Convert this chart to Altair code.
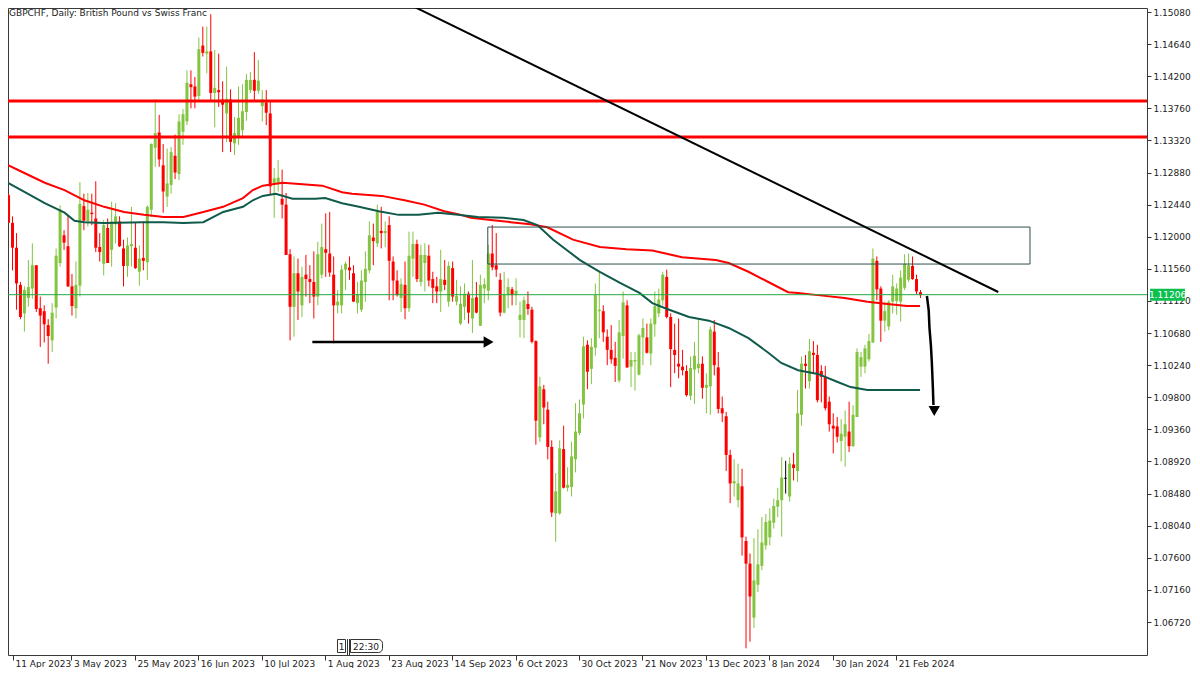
import altair as alt
import pandas as pd

# ---------------- data ----------------
opens = [1.1257,1.1219,1.1185,1.1134,1.1095,1.1116,1.1129,1.1161,1.1102,1.1098,
         1.1079,1.1058,1.1103,1.1164,1.1202,1.1187,1.1132,1.1102,1.1133,1.1242,
         1.1221,1.1233,1.1225,1.1186,1.1163,1.1212,1.1182,1.1217,1.1221,1.1184,
         1.1160,1.1187,1.1185,1.1152,1.1171,1.1165,1.1237,1.1322,1.1343,1.1298,
         1.1255,1.1271,1.1311,1.1286,1.1344,1.1358,1.1409,1.1406,1.1393,1.1462,
         1.1451,1.1454,1.1397,1.1401,1.1388,1.1369,1.1388,1.1328,1.1338,1.1346,
         1.1371,1.1401,1.1415,1.1400,1.1379,1.1384,1.1369,1.1273,1.1274,1.1252,
         1.1244,1.1176,1.1104,1.1150,1.1106,1.1148,1.1142,1.1138,1.1118,1.1148,
         1.1183,1.1177,1.1148,1.1106,1.1106,1.1155,1.1158,1.1150,1.1109,1.1100,
         1.1138,1.1154,1.1199,1.1191,1.1208,1.1205,1.1216,1.1166,1.1140,1.1116,
         1.1134,1.1102,1.1170,1.1190,1.1138,1.1164,1.1174,1.1142,1.1132,1.1125,
         1.1141,1.1111,1.1157,1.1111,1.1081,1.1104,1.1122,1.1088,1.1117,1.1078,
         1.1129,1.1126,1.1177,1.1161,1.1141,1.1096,1.1120,1.1128,1.1120,1.1086,
         1.1086,1.1108,1.1100,1.1057,1.0925,1.0991,1.0963,1.0912,1.0821,1.0821,
         1.0909,1.0856,1.0857,1.0895,1.0931,1.0970,1.1052,1.1019,1.1048,1.1098,
         1.1098,1.1063,1.1045,1.1034,1.1003,1.1064,1.1106,1.1022,1.1029,1.1011,
         1.1062,1.1062,1.1040,1.1080,1.1095,1.1113,1.1145,1.1090,1.1045,1.1026,
         1.1022,1.1016,1.0982,1.1018,1.1020,1.1026,1.0993,1.0995,1.1070,1.1021,
         1.0965,1.0954,1.0901,1.0862,1.0839,1.0858,1.0783,1.0752,1.0678,1.0723,
         1.0749,1.0777,1.0788,1.0808,1.0830,1.0839,1.0869,1.0844,1.0888,1.0879,
         1.0956,1.1026,1.1002,1.1041,1.1038,1.1016,1.1008,1.0974,1.0941,1.0940,
         1.0920,1.0926,1.0933,1.0913,1.0953,1.1022,1.1022,1.1032,1.1055,1.1167,
         1.1129,1.1085,1.1077,1.1111,1.1112,1.1111,1.1130,1.1141,1.1160,1.1142,
         1.1124]
highs = [1.1259,1.1228,1.1205,1.1138,1.1132,1.1168,1.1191,1.1161,1.1118,1.1106,
         1.1087,1.1109,1.1184,1.1243,1.1209,1.1230,1.1149,1.1166,1.1275,1.1259,
         1.1260,1.1259,1.1276,1.1205,1.1223,1.1225,1.1248,1.1246,1.1228,1.1196,
         1.1199,1.1241,1.1219,1.1188,1.1221,1.1243,1.1328,1.1388,1.1367,1.1327,
         1.1321,1.1323,1.1340,1.1368,1.1375,1.1428,1.1428,1.1419,1.1473,1.1488,
         1.1488,1.1505,1.1456,1.1451,1.1413,1.1433,1.1402,1.1364,1.1406,1.1409,
         1.1423,1.1426,1.1453,1.1442,1.1401,1.1401,1.1387,1.1294,1.1305,1.1292,
         1.1260,1.1183,1.1173,1.1170,1.1159,1.1175,1.1161,1.1180,1.1193,1.1218,
         1.1232,1.1234,1.1173,1.1127,1.1161,1.1166,1.1173,1.1161,1.1138,1.1154,
         1.1180,1.1221,1.1218,1.1244,1.1241,1.1221,1.1228,1.1173,1.1154,1.1143,
         1.1166,1.1207,1.1207,1.1196,1.1189,1.1191,1.1189,1.1152,1.1145,1.1182,
         1.1168,1.1166,1.1166,1.1141,1.1132,1.1136,1.1125,1.1168,1.1138,1.1148,
         1.1143,1.1189,1.1216,1.1205,1.1150,1.1152,1.1143,1.1131,1.1143,1.1111,
         1.1118,1.1125,1.1104,1.1058,1.1008,1.0997,1.0974,1.0921,1.0876,1.0921,
         1.0941,1.0884,1.0919,1.0972,1.0977,1.1063,1.1058,1.1061,1.1136,1.1152,
         1.1106,1.1073,1.1079,1.1056,1.1086,1.1125,1.1113,1.1042,1.1042,1.1067,
         1.1088,1.1081,1.1088,1.1125,1.1129,1.1152,1.1155,1.1095,1.1081,1.1088,
         1.1045,1.1024,1.1036,1.1056,1.1088,1.1036,1.1013,1.1077,1.1086,1.1042,
         1.0981,1.0960,1.0908,1.0895,1.0889,1.0882,1.0789,1.0766,1.0787,1.0799,
         1.0816,1.0820,1.0828,1.0841,1.0856,1.0898,1.0893,1.0898,1.0904,1.0990,
         1.1036,1.1038,1.1060,1.1057,1.1052,1.1024,1.1023,1.0981,1.0958,1.0953,
         1.0950,1.0962,1.0974,1.0969,1.1047,1.1042,1.1052,1.1067,1.1184,1.1173,
         1.1132,1.1111,1.1113,1.1148,1.1136,1.1154,1.1176,1.1177,1.1173,1.1148,
         1.1127]
lows = [1.1219,1.1154,1.1100,1.1087,1.1070,1.1104,1.1115,1.1097,1.1049,1.1055,
        1.1026,1.1042,1.1088,1.1159,1.1182,1.1131,1.1092,1.1088,1.1118,1.1209,
        1.1214,1.1216,1.1179,1.1166,1.1147,1.1164,1.1159,1.1191,1.1186,1.1132,
        1.1145,1.1159,1.1156,1.1133,1.1154,1.1141,1.1227,1.1296,1.1296,1.1233,
        1.1241,1.1259,1.1279,1.1278,1.1326,1.1353,1.1376,1.1376,1.1387,1.1447,
        1.1424,1.1387,1.1350,1.1378,1.1316,1.1330,1.1316,1.1312,1.1326,1.1337,
        1.1359,1.1397,1.1387,1.1396,1.1358,1.1353,1.1257,1.1226,1.1262,1.1225,
        1.1175,1.1058,1.1063,1.1086,1.1090,1.1118,1.1109,1.1088,1.1106,1.1143,
        1.1145,1.1145,1.1054,1.1095,1.1095,1.1127,1.1141,1.1111,1.1095,1.1097,
        1.1111,1.1150,1.1161,1.1186,1.1184,1.1186,1.1113,1.1113,1.1118,1.1097,
        1.1087,1.1097,1.1145,1.1138,1.1132,1.1125,1.1132,1.1109,1.1109,1.1097,
        1.1127,1.1104,1.1111,1.1106,1.1079,1.1086,1.1081,1.1068,1.1095,1.1078,
        1.1109,1.1113,1.1154,1.1145,1.1091,1.1095,1.1102,1.1106,1.1106,1.1062,
        1.1061,1.1093,1.1054,1.0915,1.0919,1.0943,1.0895,1.0816,1.0782,1.0819,
        1.0855,1.0851,1.0844,1.0877,1.0928,1.0951,1.0991,1.0998,1.1037,1.1061,
        1.1056,1.1024,1.1026,1.1001,1.1000,1.1033,1.1020,1.0994,1.0989,1.1010,
        1.1024,1.1040,1.1024,1.1063,1.1090,1.1106,1.1088,1.0994,1.1013,1.1006,
        1.1010,1.0981,1.0976,1.0971,1.1013,1.0978,1.0958,1.0956,1.1010,1.0958,
        1.0946,1.0879,1.0835,1.0844,1.0829,1.0763,1.0636,1.0645,1.0664,1.0713,
        1.0743,1.0771,1.0777,1.0800,1.0816,1.0789,1.0848,1.0837,1.0866,1.0864,
        1.0941,1.0992,1.0992,1.1012,1.0973,1.0973,1.0962,1.0933,1.0903,1.0918,
        1.0892,1.0885,1.0905,1.0912,1.0953,1.1008,1.1013,1.1029,1.1055,1.1113,
        1.1056,1.1070,1.1072,1.1095,1.1093,1.1084,1.1127,1.1138,1.1141,1.1121,
        1.1116]
closes = [1.1219,1.1185,1.1136,1.1090,1.1127,1.1131,1.1161,1.1101,1.1092,1.1080,
          1.1064,1.1096,1.1174,1.1237,1.1192,1.1132,1.1105,1.1134,1.1245,1.1222,
          1.1237,1.1231,1.1185,1.1179,1.1216,1.1164,1.1221,1.1228,1.1187,1.1160,
          1.1188,1.1190,1.1157,1.1170,1.1167,1.1241,1.1327,1.1342,1.1306,1.1262,
          1.1273,1.1316,1.1288,1.1358,1.1368,1.1411,1.1405,1.1392,1.1457,1.1452,
          1.1454,1.1397,1.1404,1.1398,1.1381,1.1389,1.1330,1.1342,1.1363,1.1372,
          1.1415,1.1415,1.1400,1.1414,1.1388,1.1370,1.1269,1.1280,1.1281,1.1244,
          1.1175,1.1104,1.1150,1.1125,1.1145,1.1142,1.1138,1.1118,1.1176,1.1186,
          1.1178,1.1151,1.1106,1.1111,1.1155,1.1163,1.1154,1.1111,1.1121,1.1140,
          1.1156,1.1202,1.1194,1.1234,1.1205,1.1208,1.1167,1.1140,1.1120,1.1135,
          1.1102,1.1174,1.1190,1.1142,1.1175,1.1175,1.1140,1.1130,1.1125,1.1142,
          1.1134,1.1160,1.1118,1.1119,1.1108,1.1122,1.1096,1.1116,1.1096,1.1134,
          1.1135,1.1177,1.1158,1.1155,1.1096,1.1121,1.1131,1.1120,1.1126,1.1093,
          1.1113,1.1101,1.1056,1.0948,1.0995,1.0966,1.0912,1.0822,1.0851,1.0910,
          1.0856,1.0860,1.0899,1.0933,1.0958,1.1050,1.1015,1.1049,1.1120,1.1100,
          1.1069,1.1045,1.1032,1.1023,1.1069,1.1110,1.1021,1.1031,1.1031,1.1065,
          1.1075,1.1041,1.1081,1.1105,1.1114,1.1148,1.1090,1.1046,1.1038,1.1022,
          1.1017,1.0983,1.1020,1.1037,1.1026,1.0993,1.0997,1.1073,1.1024,1.0964,
          1.0958,1.0901,1.0862,1.0865,1.0862,1.0788,1.0752,1.0707,1.0729,1.0751,
          1.0781,1.0809,1.0811,1.0831,1.0839,1.0870,1.0869,1.0889,1.0883,1.0958,
          1.1026,1.1023,1.1043,1.1038,1.0976,1.1008,1.0965,1.0943,1.0937,1.0926,
          1.0930,1.0943,1.0913,1.0956,1.1042,1.1035,1.1047,1.1057,1.1170,1.1128,
          1.1085,1.1098,1.1111,1.1132,1.1129,1.1144,1.1163,1.1161,1.1142,1.1125,
          1.1120]

# moving averages (bar index, price)
ma_red_i = [0,4.25,9.25,14.25,19.25,24.25,29.25,34.25,39.25,44.25,49.25,54.25,59.25,61.75,
            64.25,69.25,74.25,79.25,84.25,86.75,94.25,100,105,110,113.5,116.75,121.75,126.75,
            131.75,136,142.5,149.25,156,162.5,170,178.5,181.75,186.75,191.75,196.75,199.25,
            204.25,211,216.75,221.75,226.75,230]
ma_red_p = [1.1298,1.1287,1.1274,1.1264,1.1250,1.1241,1.1234,1.1230,1.1227,1.1227,1.1234,1.1241,
            1.1253,1.1264,1.1270,1.1274,1.1272,1.1270,1.1261,1.1259,1.1256,1.1250,1.1244,1.1235,
            1.1231,1.1226,1.1223,1.1220,1.1217,1.1213,1.1196,1.1186,1.1183,1.1181,1.1172,1.1168,
            1.1164,1.1152,1.1138,1.1124,1.1123,1.1120,1.1116,1.1111,1.1108,1.1105,1.1105]
ma_teal_i = [0,4.25,9.25,14.25,16.75,19.25,24.25,34.25,39.25,44.25,49.25,54.25,59.25,61.75,
             64.25,67.5,71.75,77.5,80,84.25,88.5,93.5,98.5,103.5,108.5,113.5,118.5,125,130,
             133.5,137.5,144.25,149.25,154.25,159.25,162.5,166.75,171.75,176.75,181.75,186.75,
             191.75,195,199.25,204.25,209.25,212.5,216.75,230]
ma_teal_p = [1.1274,1.1261,1.1246,1.1233,1.1222,1.1220,1.1219,1.1220,1.1220,1.1219,1.1220,1.1234,
             1.1241,1.1250,1.1256,1.1259,1.1252,1.1252,1.1253,1.1246,1.1241,1.1235,1.1230,1.1230,
             1.1233,1.1230,1.1227,1.1226,1.1223,1.1216,1.1196,1.1168,1.1152,1.1137,1.1123,1.1109,
             1.1100,1.1090,1.1085,1.1075,1.1061,1.1041,1.1027,1.1017,1.1012,1.1001,1.0994,1.0990,
             1.0990]

# drawn objects
resistance_levels = [1.13860, 1.13367]
trend_i = [100.5, 249.75]
trend_p = [1.15203, 1.11243]
zone_i = [121, 257.75]
zone_p = [1.12133, 1.11626]
last_price = 1.11206
arrow_h_i = [76.75, 120.5]
arrow_h_p = [1.10557, 1.10557]
arrow_head_h = (121.2, 1.10557)
arrow_v_i = [231.75, 232.2, 232.4, 232.75, 233.0, 233.25, 233.4]
arrow_v_p = [1.11188, 1.10996, 1.10749, 1.10516, 1.10270, 1.09941, 1.09694]
arrow_head_v = (233.6, 1.09612)

x_tick_idx = [1.25, 16, 32, 48, 64, 80, 96, 112, 128, 144, 160, 176, 192, 208, 224]
x_tick_labels = ["11 Apr 2023", "3 May 2023", "25 May 2023", "16 Jun 2023", "10 Jul 2023",
                 "1 Aug 2023", "23 Aug 2023", "14 Sep 2023", "6 Oct 2023", "30 Oct 2023",
                 "21 Nov 2023", "13 Dec 2023", "8 Jan 2024", "30 Jan 2024", "21 Feb 2024"]
y_ticks = [1.0672, 1.0716, 1.0760, 1.0804, 1.0848, 1.0892, 1.0936, 1.0980, 1.1024, 1.1068,
           1.1112, 1.1156, 1.1200, 1.1244, 1.1288, 1.1332, 1.1376, 1.1420, 1.1464, 1.1508]
title_text = "GBPCHF, Daily:  British Pound vs Swiss Franc"

# ---------------- styling ----------------
GREEN = "#83C441"
RED = "#FF0000"
TEAL = "#0F5A4B"
FONT = "DejaVu Sans"
W, H = 1139, 647
xs = alt.Scale(domain=[1.25, 286], nice=False, zero=False)
ys = alt.Scale(domain=[1.06268, 1.15135], nice=False, zero=False)

dirs = ["doji" if o == c else ("up" if c > o else "down") for o, c in zip(opens, closes)]
df = pd.DataFrame({"i": list(range(len(opens))), "o": opens, "h": highs, "l": lows,
                   "c": closes, "dir": dirs})
color = alt.Color("dir:N", scale=alt.Scale(domain=["up", "down", "doji"],
                                           range=[GREEN, RED, "#000000"]), legend=None)

label_expr = "[" + ",".join("'%s'" % s for s in x_tick_labels) + "][round(datum.value/16)]"
x_axis = alt.Axis(values=x_tick_idx, labelExpr=label_expr, tickSize=5, labelAlign="left",
                  labelBaseline="top", labelPadding=-1, labelOffset=2, labelFont=FONT,
                  labelFontSize=9, labelColor="#222", tickColor="#333", domain=False,
                  grid=False, title=None, labelOverlap=False, labelFlush=False)
y_axis = alt.Axis(values=y_ticks, format=".5f", orient="right", tickSize=4, labelPadding=2,
                  labelFont=FONT, labelFontSize=9, labelColor="#222", tickColor="#333",
                  domain=False, grid=False, title=None, labelOverlap=False, labelFlush=False,
                  labelBound=False)


def X(field):
    return alt.X(field, scale=xs, axis=x_axis)


def Y(field):
    return alt.Y(field, scale=ys, axis=y_axis)


base = alt.Chart(df)
wicks = base.mark_rule(strokeWidth=1, clip=True, xOffset=0.5).encode(
    x=X("i:Q"), y=Y("l:Q"), y2="h:Q", color=color)
bodies = base.transform_filter("datum.dir != 'doji'").mark_bar(size=3, clip=True, xOffset=0.5).encode(
    x=X("i:Q"), y=Y("o:Q"), y2="c:Q", color=color)
doji = base.transform_filter("datum.dir == 'doji'").transform_calculate(
    xa="datum.i - 0.375", xb="datum.i + 0.375").mark_rule(strokeWidth=1, clip=True, xOffset=0.5).encode(
    x=X("xa:Q"), x2="xb:Q", y=Y("o:Q"), color=alt.value("#000000"))

ma_red = alt.Chart(pd.DataFrame({"i": ma_red_i, "p": ma_red_p})).mark_line(
    color=RED, strokeWidth=2, clip=True).encode(x=X("i:Q"), y=Y("p:Q"))
ma_teal = alt.Chart(pd.DataFrame({"i": ma_teal_i, "p": ma_teal_p})).mark_line(
    color=TEAL, strokeWidth=2, clip=True).encode(x=X("i:Q"), y=Y("p:Q"))

levels = alt.Chart(pd.DataFrame({"p": resistance_levels})).mark_rule(
    color=RED, strokeWidth=3, clip=True).encode(y=Y("p:Q"))
price_line = alt.Chart(pd.DataFrame({"p": [last_price]})).mark_rule(
    color="#22A846", strokeWidth=1, clip=True).encode(y=Y("p:Q"))

zone = alt.Chart(pd.DataFrame({"x1": [zone_i[0]], "x2": [zone_i[1]],
                               "y1": [zone_p[0]], "y2": [zone_p[1]]})).mark_rect(
    fillOpacity=0, stroke="#2F4F4F", strokeWidth=1, clip=True).encode(
    x=X("x1:Q"), x2="x2:Q", y=Y("y1:Q"), y2="y2:Q")

trend = alt.Chart(pd.DataFrame({"i": trend_i, "p": trend_p})).mark_line(
    color="#000000", strokeWidth=2, clip=True).encode(x=X("i:Q"), y=Y("p:Q"))

arrow_h = alt.Chart(pd.DataFrame({"i": arrow_h_i, "p": arrow_h_p})).mark_line(
    color="#000000", strokeWidth=2.5, clip=True).encode(x=X("i:Q"), y=Y("p:Q"))
arrow_h_head = alt.Chart(pd.DataFrame({"i": [arrow_head_h[0]], "p": [arrow_head_h[1]]})).mark_point(
    shape="triangle-right", filled=True, size=130, color="#000000", opacity=1).encode(
    x=X("i:Q"), y=Y("p:Q"))
arrow_v = alt.Chart(pd.DataFrame({"i": arrow_v_i, "p": arrow_v_p,
                                  "k": list(range(len(arrow_v_i)))})).mark_line(
    color="#000000", strokeWidth=2.5, clip=True).encode(x=X("i:Q"), y=Y("p:Q"), order="k:Q")
arrow_v_head = alt.Chart(pd.DataFrame({"i": [arrow_head_v[0]], "p": [arrow_head_v[1]]})).mark_point(
    shape="triangle-down", filled=True, size=130, color="#000000", opacity=1).encode(
    x=X("i:Q"), y=Y("p:Q"))

# price tag on the right axis
tag_df = pd.DataFrame({"p": [last_price], "t": ["%.5f" % last_price]})
tag_box = alt.Chart(tag_df).mark_point(
    shape="M-1,-0.34L1,-0.34L1,0.34L-1,0.34Z", filled=True, size=1225,
    color="#0DBF4F", opacity=1).encode(x=alt.value(1159.5), y=Y("p:Q"))
tag_text = alt.Chart(tag_df).mark_text(
    color="white", font=FONT, fontSize=9, align="center", baseline="middle").encode(
    x=alt.value(1159.5), y=Y("p:Q"), text="t:N")

# title and time marker widgets
title = alt.Chart(pd.DataFrame({"t": [title_text]})).mark_text(
    font=FONT, fontSize=9, color="#222", align="left", baseline="top").encode(
    x=alt.value(1), y=alt.value(1), text="t:N")
mk_box1 = alt.Chart(pd.DataFrame({"a": [0]})).mark_rect(
    fillOpacity=0, stroke="#333", strokeWidth=1).encode(
    x=alt.value(329.5), x2=alt.value(337.5), y=alt.value(631.5), y2=alt.value(644.5))
mk_box2 = alt.Chart(pd.DataFrame({"a": [0]})).mark_rect(
    fillOpacity=0, stroke="#333", strokeWidth=1, cornerRadiusTopRight=4,
    cornerRadiusBottomRight=4).encode(
    x=alt.value(342.5), x2=alt.value(374.5), y=alt.value(631.5), y2=alt.value(644.5))
mk_line1 = alt.Chart(pd.DataFrame({"a": [0]})).mark_rule(color="#333", strokeWidth=1).encode(
    x=alt.value(339.5), y=alt.value(631), y2=alt.value(647))
mk_line2 = alt.Chart(pd.DataFrame({"a": [0]})).mark_rule(color="#333", strokeWidth=1).encode(
    x=alt.value(341.5), y=alt.value(631), y2=alt.value(647))
mk_t1 = alt.Chart(pd.DataFrame({"t": ["1"]})).mark_text(
    font=FONT, fontSize=9, color="#222", align="center", baseline="middle").encode(
    x=alt.value(333.5), y=alt.value(638.5), text="t:N")
mk_t2 = alt.Chart(pd.DataFrame({"t": ["22:30"]})).mark_text(
    font=FONT, fontSize=9, color="#222", align="center", baseline="middle").encode(
    x=alt.value(358), y=alt.value(638.5), text="t:N")

chart = alt.layer(
    wicks, bodies, doji, ma_red, ma_teal, levels, zone, trend, price_line,
    arrow_h, arrow_h_head, arrow_v, arrow_v_head, tag_box, tag_text,
    title, mk_box1, mk_box2, mk_line1, mk_line2, mk_t1, mk_t2
).properties(width=W, height=H, padding=0, background="white").configure_view(
    stroke="#3a3a3a", strokeWidth=1)

chart.save("out.html", embed_options={"renderer": "svg", "actions": False})
